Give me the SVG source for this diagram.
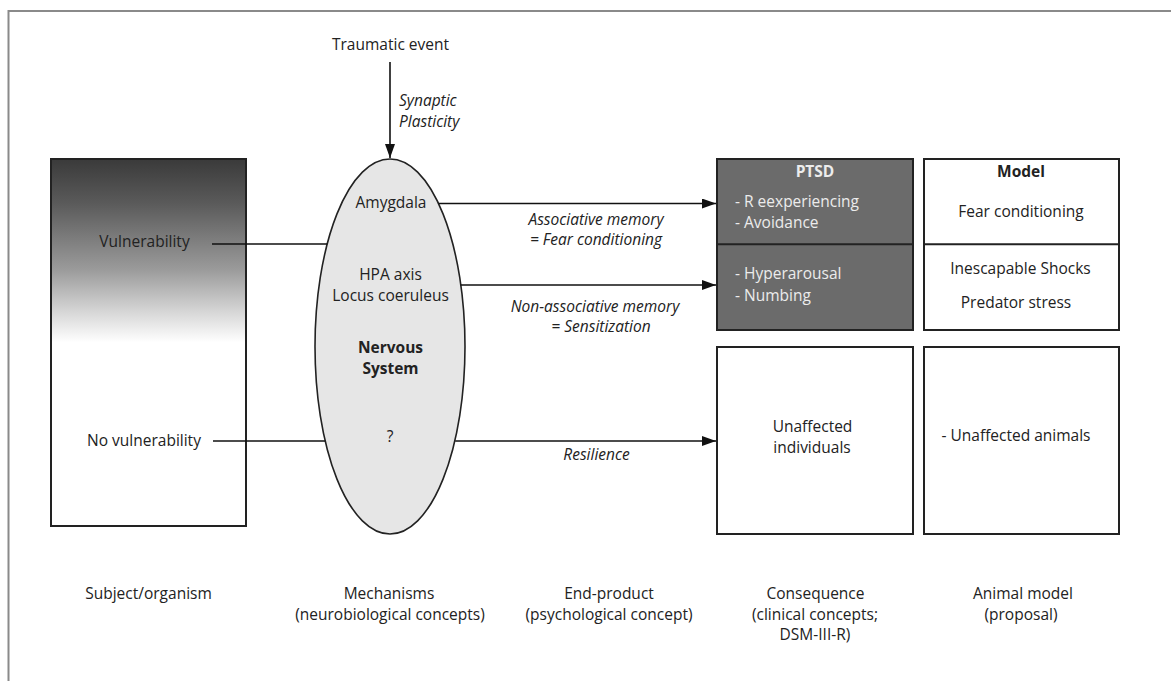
<svg xmlns="http://www.w3.org/2000/svg" width="1171" height="681" viewBox="0 0 1171 681">
<defs>
<linearGradient id="vuln" x1="0" y1="0" x2="0" y2="1">
<stop offset="0" stop-color="#3a3a3a"/>
<stop offset="0.12" stop-color="#5a5a5a"/>
<stop offset="0.3" stop-color="#9a9a9a"/>
<stop offset="0.42" stop-color="#d8d8d8"/>
<stop offset="0.5" stop-color="#ffffff"/>
<stop offset="1" stop-color="#ffffff"/>
</linearGradient>
<marker id="arr" markerUnits="userSpaceOnUse" markerWidth="15" markerHeight="11" refX="14" refY="5" orient="auto">
<path d="M0,0 L14,5 L0,10 Z" fill="#111"/>
</marker>
</defs>
<style>
text{font-family:"Open Sans","Liberation Sans",sans-serif;font-size:15.5px;fill:#222}
.c{text-anchor:middle}
.i{font-style:italic}
.b{font-weight:bold}
.w{fill:#ececec}
.box{stroke:#222;stroke-width:2}
.ln{stroke:#111;stroke-width:1.6;fill:none}
</style>
<path d="M8.5,690 V11 H1190" fill="none" stroke="#8a8a8a" stroke-width="2"/>

<g id="subject">
<rect class="box" x="51" y="159" width="195" height="367" fill="url(#vuln)"/>
<text class="c" x="144.5" y="247">Vulnerability</text>
<text class="c" x="144" y="446">No vulnerability</text>
</g>

<g id="traumatic">
<text class="c" x="390.5" y="50">Traumatic event</text>
</g>

<g id="mechanisms">
<ellipse cx="390" cy="346.5" rx="75" ry="187.5" fill="#e6e6e6" stroke="#222" stroke-width="1.6"/>
<text class="c" x="391" y="208">Amygdala</text>
<text class="c" x="390.5" y="280">HPA axis</text>
<text class="c" x="390.5" y="301">Locus coeruleus</text>
<text class="c b" x="390.5" y="353">Nervous</text>
<text class="c b" x="390.5" y="374">System</text>
<text class="c" x="390" y="442">?</text>
</g>

<g id="ptsd">
<rect class="box" x="717" y="159" width="196" height="171" fill="#6b6b6b"/>
<line x1="717" y1="244.3" x2="913" y2="244.3" stroke="#222" stroke-width="2"/>
<text class="c b w" x="815" y="177">PTSD</text>
<text class="w" x="735" y="207">- R eexperiencing</text>
<text class="w" x="735" y="228">- Avoidance</text>
<text class="w" x="735" y="279">- Hyperarousal</text>
<text class="w" x="735" y="301">- Numbing</text>
</g>

<g id="model">
<rect class="box" x="924" y="159" width="195" height="171" fill="#fff"/>
<line x1="924" y1="244.3" x2="1119" y2="244.3" stroke="#222" stroke-width="2"/>
<text class="c b" x="1021" y="177">Model</text>
<text class="c" x="1021" y="217">Fear conditioning</text>
<text class="c" x="1020.5" y="274">Inescapable Shocks</text>
<text class="c" x="1016" y="308">Predator stress</text>
</g>

<g id="unaffected-individuals">
<rect class="box" x="717" y="347" width="196" height="187" fill="#fff"/>
<text class="c" x="812.5" y="432">Unaffected</text>
<text class="c" x="812" y="453">individuals</text>
</g>

<g id="unaffected-animals">
<rect class="box" x="924" y="347" width="195" height="187" fill="#fff"/>
<text class="c" x="1016" y="441">- Unaffected animals</text>
</g>

<g id="connectors">
<line class="ln" x1="390" y1="62" x2="390" y2="158" marker-end="url(#arr)"/>
<line class="ln" x1="212" y1="244" x2="327.2" y2="244"/>
<line class="ln" x1="213" y1="441" x2="325.2" y2="441"/>
<line class="ln" x1="438.5" y1="203.5" x2="716" y2="203.5" marker-end="url(#arr)"/>
<line class="ln" x1="460.8" y1="285" x2="716" y2="285" marker-end="url(#arr)"/>
<line class="ln" x1="455.2" y1="441" x2="716" y2="441" marker-end="url(#arr)"/>
<text class="i" x="399" y="106">Synaptic</text>
<text class="i" x="399" y="127">Plasticity</text>
<text class="c i" x="596" y="225">Associative memory</text>
<text class="c i" x="596" y="245">= Fear conditioning</text>
<text class="c i" x="595" y="312">Non-associative memory</text>
<text class="c i" x="601" y="332">= Sensitization</text>
<text class="c i" x="596.5" y="460">Resilience</text>
</g>

<g id="column-labels">
<text class="c" x="148.5" y="599">Subject/organism</text>
<text class="c" x="389" y="599">Mechanisms</text>
<text class="c" x="390" y="620">(neurobiological concepts)</text>
<text class="c" x="609" y="599">End-product</text>
<text class="c" x="609" y="620">(psychological concept)</text>
<text class="c" x="815.5" y="599">Consequence</text>
<text class="c" x="815" y="620">(clinical concepts;</text>
<text class="c" x="815" y="640">DSM-III-R)</text>
<text class="c" x="1023" y="599">Animal model</text>
<text class="c" x="1021" y="620">(proposal)</text>
</g>
</svg>
